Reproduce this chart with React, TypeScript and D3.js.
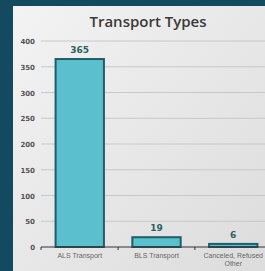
import React from "react";
import * as d3 from "d3";

const categories = ["ALS Transport", "BLS Transport", "Canceled, Refused\nOther"];
const counts = [365, 19, 6];
const yTicks = [0, 50, 100, 150, 200, 250, 300, 350, 400];

export default function App() {
  const W = 265;
  const H = 271;
  const x0 = 41;
  const x1 = 272;
  const yTop = 41;
  const yBase = 247;

  const x = d3.scaleBand<string>().domain(categories).range([x0, x1]).paddingInner(0.37).paddingOuter(0.19);
  const y = d3.scaleLinear().domain([0, 400]).range([yBase, yTop]);

  // extra tick marks sit between the bands
  const step = x.step();
  const sepTicks = [1, 2].map(i => x0 + x.paddingOuter() * step + i * step - (x.paddingInner() * step) / 2);

  return (
    <svg width={W} height={H} style={{ position: "fixed", left: 0, top: 0 }}>
      <defs>
        <linearGradient id="panel" x1="0" y1="0" x2="1" y2="1">
          <stop offset="0%" stopColor="#f3f3f3" />
          <stop offset="100%" stopColor="#dcdcdc" />
        </linearGradient>
      </defs>
      <rect x={0} y={0} width={W} height={H} fill="#134a60" />
      <rect x={13} y={6} width={W - 13} height={H - 6} fill="url(#panel)" />

      <text x={148} y={27} textAnchor="middle" fontFamily="'Open Sans', sans-serif" fontWeight={600} fontSize={15} fill="#3a3a3a">
        Transport Types
      </text>

      {yTicks.map(t => (
        <g key={t}>
          {t > 0 && <line x1={x0} x2={W} y1={y(t)} y2={y(t)} stroke="#c8c8c8" strokeWidth={1} />}
          <text x={35} y={y(t) + 3} textAnchor="end" fontFamily="'DejaVu Sans', sans-serif" fontWeight="bold" fontSize={7} fill="#555">
            {t}
          </text>
        </g>
      ))}

      {categories.map((c, i) => (
        <g key={c}>
          <rect
            x={x(c)!}
            y={y(counts[i])}
            width={x.bandwidth()}
            height={yBase - y(counts[i])}
            fill="#5bbfcd"
            stroke="#1f5e69"
            strokeWidth={2}
          />
          <text
            x={x(c)! + x.bandwidth() / 2}
            y={y(counts[i]) - 6}
            textAnchor="middle"
            fontFamily="'DejaVu Sans', sans-serif"
            fontWeight="bold"
            fontSize={9}
            fill="#2b5f63"
          >
            {counts[i]}
          </text>
          {c.split("\n").map((line, j) => (
            <text
              key={j}
              x={x(c)! + x.bandwidth() / 2}
              y={yBase + 11 + j * 8}
              textAnchor="middle"
              fontFamily="'Liberation Sans', Arial, sans-serif"
              fontSize={7}
              fill="#666"
            >
              {line}
            </text>
          ))}
        </g>
      ))}

      <line x1={x0} x2={W} y1={yBase} y2={yBase} stroke="#333" strokeWidth={1} />
      <line x1={x0} x2={x0} y1={yBase} y2={yBase + 3} stroke="#333" />
      {sepTicks.map((t, i) => (
        <line key={i} x1={t} x2={t} y1={yBase} y2={yBase + 3} stroke="#333" />
      ))}
    </svg>
  );
}
